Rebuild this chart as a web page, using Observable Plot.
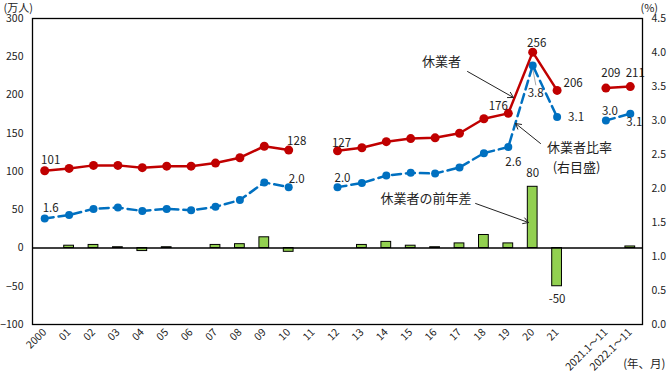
<!DOCTYPE html>
<html><head><meta charset="utf-8">
<script src="https://cdn.jsdelivr.net/npm/d3@7"></script>
<script src="https://cdn.jsdelivr.net/npm/@observablehq/plot@0.6"></script>
<style>
html,body{margin:0;padding:0;background:#fff;}
</style>
</head><body>
<div id="chart"></div>
<script>
// categories (x axis)
const categories = ["2000","01","02","03","04","05","06","07","08","09","10","11","12","13","14","15","16","17","18","19","20","21","","2021.1～11","2022.1～11"];
// 休業者 (万人)
const workers = [101,104,108,108,105,107,107,111,118,133,128,null,127,131,139,143,144,150,169,176,256,206,null,209,211];
// 休業者比率 (%) right axis
const ratio = [1.56,1.61,1.70,1.72,1.67,1.70,1.68,1.73,1.83,2.09,2.02,null,2.02,2.08,2.19,2.23,2.22,2.31,2.52,2.61,3.81,3.05,null,3.00,3.10];
// 休業者の前年差 (万人)
const diff = [null,3,4,1,-4,1,0,4,5,14,-5,null,null,4,8,3,1,6,17,6,80,-50,null,null,2];
// tick labels
const leftTicks = [-100,-50,0,50,100,150,200,250,300];
const rightTicks = [0,0.5,1,1.5,2,2.5,3,3.5,4,4.5];
// labelled points
const workerLabels = ["101","128","127","176","256","206","209","211"];
const workerLabelIdx = [0,10,12,19,20,21,23,24];
const ratioLabels = ["1.6","2.0","2.0","2.6","3.8","3.1","3.0","3.1"];
const ratioLabelIdx = [0,10,12,19,20,21,23,24];
const diffLabels = ["80","-50"];
const diffLabelIdx = [20,21];

const rows = categories.map((c,i)=>({i, cat:c, workers:workers[i], ratio:ratio[i], diff:diff[i]}));
const toLeft = v => v == null ? null : -100 + v*400/4.5;
const fromLeft = d => (d+100)*4.5/400;

// label offsets (layout)
const wOff = [[6,-10],[8,-9],[4,-8],[-10,-7],[4,-9],[16,-7],[5,-15],[5,-13]];
const rOff = [[6,-10],[8,-8],[5,-9],[5,15],[3,28],[19,0],[4,-9],[4,9]];
const dOff = [[0,-13],[0,13]];

const font = "'Noto Sans CJK JP', 'Noto Sans', sans-serif";
const labelMarks = [];
workerLabelIdx.forEach((idx,k)=>{
  labelMarks.push(Plot.text([rows[idx]], {x:"i", y:"workers", text:()=>workerLabels[k], dx:wOff[k][0], dy:wOff[k][1], fontSize:11.5, fill:"#222"}));
});
ratioLabelIdx.forEach((idx,k)=>{
  labelMarks.push(Plot.text([rows[idx]], {x:"i", y:d=>toLeft(d.ratio), text:()=>ratioLabels[k], dx:rOff[k][0], dy:rOff[k][1], fontSize:11.5, fill:"#222"}));
});
diffLabelIdx.forEach((idx,k)=>{
  labelMarks.push(Plot.text([rows[idx]], {x:"i", y:"diff", text:()=>diffLabels[k], dx:dOff[k][0], dy:dOff[k][1], fontSize:11.5, fill:"#222"}));
});

// annotations (in data units: x = category index, y = 万人)
const annoText = [
  {x:16.26, y:243.8, t:"休業者"},
  {x:21.92, y:130.7, t:"休業者比率"},
  {x:21.80, y:105.2, t:"(右目盛)"},
  {x:15.63, y:64.7, t:"休業者の前年差"}
];
const annoArrows = [
  {x1:17.33, y1:230.7, x2:19.21, y2:196.7},
  {x1:20.32, y1:136.6, x2:19.30, y2:162.7},
  {x1:17.66, y1:58.2, x2:19.83, y2:33.3}
];

const chart = Plot.plot({
  width:670, height:380,
  marginLeft:32, marginRight:28, marginTop:18, marginBottom:56,
  x:{domain:[-0.5, categories.length-0.5]},
  y:{domain:[-100,300]},
  style:{fontFamily:font, fontSize:"11px", color:"#222", background:"#fff"},
  marks:[
    Plot.axisY({anchor:"left", ticks:leftTicks, tickSize:0, tickPadding:9, label:null, fontSize:10.5}),
    Plot.axisY({anchor:"right", ticks:rightTicks.map(toLeft), tickFormat:d=>fromLeft(d).toFixed(1), tickSize:0, tickPadding:9, label:null, fontSize:10.5}),
    Plot.axisX({ticks:d3.range(categories.length), tickFormat:i=>categories[i], tickRotate:-45, tickSize:0, tickPadding:6, label:null, fontSize:10.5}),
    Plot.rectY(rows.filter(d=>d.diff!=null), {x1:d=>d.i-0.2, x2:d=>d.i+0.2, y:"diff", fill:"#92D050", stroke:"#000", strokeWidth:1}),
    Plot.ruleY([0], {stroke:"#000", strokeWidth:1.3}),
    Plot.link([rows[20]], {x1:"i", y1:d=>toLeft(d.ratio)-4, x2:d=>d.i+0.13, y2:d=>toLeft(d.ratio)-26, stroke:"#aaa", strokeWidth:1}),
    Plot.line(rows, {x:"i", y:d=>toLeft(d.ratio), stroke:"#0070C0", strokeWidth:2.5, strokeDasharray:"9,5"}),
    Plot.dot(rows.filter(d=>d.ratio!=null), {x:"i", y:d=>toLeft(d.ratio), r:4, fill:"#0070C0"}),
    Plot.line(rows, {x:"i", y:"workers", stroke:"#C00000", strokeWidth:2.5}),
    Plot.dot(rows.filter(d=>d.workers!=null), {x:"i", y:"workers", r:4.5, fill:"#C00000"}),
    ...labelMarks,
    Plot.text(annoText, {x:"x", y:"y", text:"t", fontSize:13, fill:"#222"}),
    Plot.arrow(annoArrows, {x1:"x1", y1:"y1", x2:"x2", y2:"y2", stroke:"#222", strokeWidth:1, headLength:9}),
    Plot.text(["(万人)"], {frameAnchor:"top-left", text:d=>d, textAnchor:"start", lineAnchor:"middle", dx:-29, dy:-10, fontSize:11, fill:"#222"}),
    Plot.text(["(%)"], {frameAnchor:"top-right", text:d=>d, textAnchor:"start", lineAnchor:"middle", dx:-2, dy:-10, fontSize:11, fill:"#222"}),
    Plot.text(["(年、月)"], {frameAnchor:"bottom-right", text:d=>d, textAnchor:"end", lineAnchor:"middle", dx:23, dy:40, fontSize:11.5, fill:"#222"}),
    Plot.frame({stroke:"#000", strokeWidth:1.3})
  ]
});
document.getElementById("chart").appendChild(chart);
</script>
</body></html>
